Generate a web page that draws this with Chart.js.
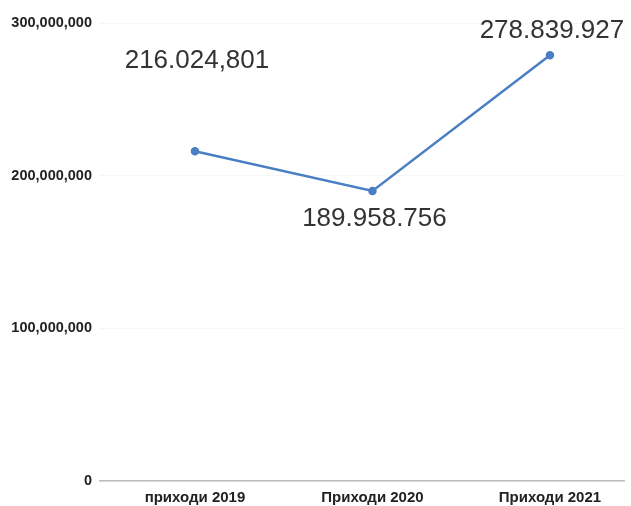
<!DOCTYPE html>
<html>
<head>
<meta charset="utf-8">
<script src="https://cdn.jsdelivr.net/npm/chart.js@4"></script>
<style>
  html, body { margin: 0; padding: 0; background: #fff; overflow: hidden; }
  #wrap { width: 631px; height: 506px; }
</style>
</head>
<body>
<div id="wrap"><canvas id="myChart"></canvas></div>
<script>
/* Data */
const categories = ['приходи 2019', 'Приходи 2020', 'Приходи 2021'];
const revenue = [216024801, 189958756, 278839927];
const valueLabels = ['216.024,801', '189.958.756', '278.839.927'];
const yTicks = [0, 100000000, 200000000, 300000000];

// label offset from the point (px, negative = above)
const labelOffsets = [-90, 28, -24];

const pointLabels = {
  id: 'pointLabels',
  afterDatasetsDraw(chart) {
    const ctx = chart.ctx;
    const meta = chart.getDatasetMeta(0);
    ctx.save();
    ctx.font = '26px "Liberation Sans", Arial, sans-serif';
    ctx.fillStyle = '#333';
    ctx.textAlign = 'center';
    ctx.textBaseline = 'middle';
    meta.data.forEach(function(pt, i) {
      ctx.fillText(valueLabels[i], pt.x + 2, pt.y + labelOffsets[i]);
    });
    ctx.restore();
  }
};

let ctx = document.getElementById('myChart').getContext('2d');
// eslint-disable-next-line
let chart = new Chart(ctx, {
  type: 'line',
  data: {
    datasets: [{
      data: revenue.map(function(v, i) { return { x: i, y: v }; }),
      borderColor: '#4a7fc4',
      backgroundColor: '#4a7fc4',
      borderWidth: 2.5,
      pointRadius: 3,
      tension: 0
    }]
  },
  plugins: [pointLabels],
  options: {
    responsive: true,
    maintainAspectRatio: false,
    animation: false,
    layout: {
      padding: { left: 0, right: 6, top: 23, bottom: 0 }
    },
    plugins: {
      legend: { display: false },
      tooltip: { enabled: false }
    },
    scales: {
      x: {
        type: 'linear',
        min: -0.535,
        max: 2.42,
        afterFit: function(scale) { scale.height = 25; },
        grid: { display: false, drawTicks: false },
        border: { color: '#bbb', width: 1.5 },
        afterBuildTicks: function(scale) {
          scale.ticks = categories.map(function(c, i) { return { value: i }; });
        },
        ticks: {
          padding: 8,
          color: '#222',
          font: { family: '"Liberation Sans", Arial, sans-serif', size: 15, weight: 'bold' },
          callback: function(v) { return categories[v]; }
        }
      },
      y: {
        min: 0,
        max: 300000000,
        afterFit: function(scale) { scale.width = 100; },
        afterBuildTicks: function(scale) {
          scale.ticks = yTicks.map(function(v) { return { value: v }; });
        },
        grid: { color: 'rgba(0,0,0,0.035)', drawTicks: false },
        border: { display: false },
        ticks: {
          padding: 8,
          color: '#222',
          font: { family: '"Liberation Sans", Arial, sans-serif', size: 14.5, weight: 'bold' },
          callback: function(v) { return v.toLocaleString('en-US'); }
        }
      }
    }
  }
});
</script>
</body>
</html>
